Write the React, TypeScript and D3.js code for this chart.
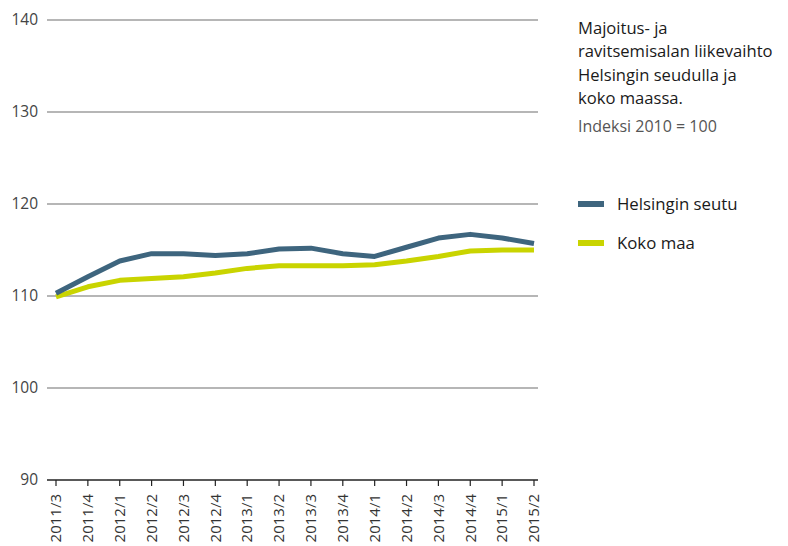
import { useEffect, useRef } from 'react'
import * as d3 from 'd3'

const PERIODS = ['2011/3', '2011/4', '2012/1', '2012/2', '2012/3', '2012/4', '2013/1', '2013/2', '2013/3', '2013/4', '2014/1', '2014/2', '2014/3', '2014/4', '2015/1', '2015/2']
const HELSINKI = [110.3, 112.1, 113.8, 114.6, 114.6, 114.4, 114.6, 115.1, 115.2, 114.6, 114.3, 115.3, 116.3, 116.7, 116.3, 115.7]
const KOKO_MAA = [109.9, 111.0, 111.7, 111.9, 112.1, 112.5, 113.0, 113.3, 113.3, 113.3, 113.4, 113.8, 114.3, 114.9, 115.0, 115.0]
const Y_TICKS = [90, 100, 110, 120, 130, 140]
const TITLE = ['Majoitus- ja', 'ravitsemisalan liikevaihto', 'Helsingin seudulla ja', 'koko maassa.']
const SUBTITLE = 'Indeksi 2010 = 100'
const SERIES = [
  { name: 'Helsingin seutu', values: HELSINKI, color: '#3e657e' },
  { name: 'Koko maa', values: KOKO_MAA, color: '#c9d400' },
]

export default function App() {
  const svgRef = useRef<SVGSVGElement>(null)

  useEffect(() => {
    const W = 788
    const H = 546
    const font = '"Open Sans", sans-serif'
    const svg = d3.select(svgRef.current!).attr('viewBox', `0 0 ${W} ${H}`)
    svg.selectAll('*').remove()

    const x = d3.scalePoint<string>().domain(PERIODS).range([56, 534])
    const y = d3.scaleLinear().domain([90, 140]).range([480, 20])

    // gridlines + y labels
    Y_TICKS.forEach((t) => {
      svg.append('line').attr('x1', 47).attr('x2', 538)
        .attr('y1', y(t)).attr('y2', y(t))
        .attr('stroke', t === 90 ? '#222' : '#6e6e6e').attr('stroke-width', t === 90 ? 1.3 : 1.1)
      svg.append('text').attr('x', 38).attr('y', y(t)).attr('dy', '0.35em')
        .attr('text-anchor', 'end').attr('font-family', font).attr('font-size', 15.5)
        .attr('fill', '#444').text(t)
    })

    // x ticks + labels
    PERIODS.forEach((p) => {
      const px = x(p)!
      svg.append('line').attr('x1', px).attr('x2', px).attr('y1', 480).attr('y2', 486)
        .attr('stroke', '#222').attr('stroke-width', 1.2)
      svg.append('text')
        .attr('transform', `translate(${px},494) rotate(-90)`)
        .attr('dy', '0.35em').attr('text-anchor', 'end')
        .attr('font-family', font).attr('font-size', 15).attr('fill', '#333')
        .text(p)
    })

    const line = d3.line<number>()
      .x((_, i) => x(PERIODS[i])!)
      .y((d) => y(d))

    // draw Koko maa first, Helsinki on top
    ;[...SERIES].reverse().forEach((s) => {
      svg.append('path').attr('d', line(s.values) ?? '')
        .attr('fill', 'none').attr('stroke', s.color).attr('stroke-width', 5)
        .attr('stroke-linejoin', 'round').attr('stroke-linecap', 'butt')
    })

    // title
    TITLE.forEach((t, i) => {
      svg.append('text').attr('x', 578).attr('y', 34 + i * 23.3)
        .attr('font-family', font).attr('font-size', 16.6).attr('fill', '#1a1a1a').text(t)
    })
    svg.append('text').attr('x', 578).attr('y', 132)
      .attr('font-family', font).attr('font-size', 16).attr('fill', '#555').text(SUBTITLE)

    // legend
    SERIES.forEach((s, i) => {
      const ly = 204 + i * 39
      svg.append('line').attr('x1', 578).attr('x2', 604).attr('y1', ly).attr('y2', ly)
        .attr('stroke', s.color).attr('stroke-width', 6)
      svg.append('text').attr('x', 617).attr('y', ly).attr('dy', '0.35em')
        .attr('font-family', font).attr('font-size', 16.8).attr('fill', '#1a1a1a').text(s.name)
    })
  }, [])

  return (
    <svg ref={svgRef} width={788} height={546}
      style={{ position: 'absolute', left: 0, top: 0, background: '#fff' }} />
  )
}
